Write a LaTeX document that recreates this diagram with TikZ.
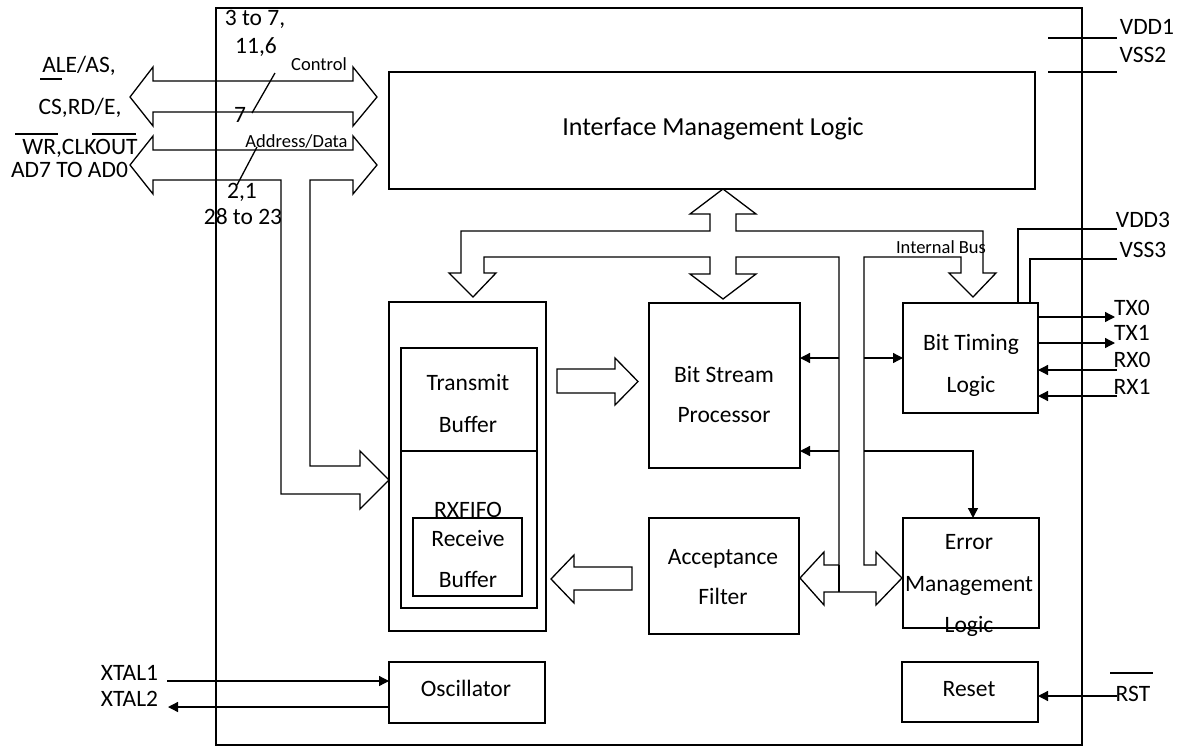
\documentclass[tikz,border=0pt]{standalone}
\usepackage{fontspec}
\setmainfont{Carlito}
\usetikzlibrary{arrows.meta,calc}
\tikzset{
  blk/.style={draw, line width=1.3pt, inner sep=0pt, outer sep=0pt},
  wire/.style={line width=1.3pt},
  sig/.style={line width=1.3pt, -{Triangle[length=10pt,width=10pt]}},
  hol/.style={draw, line width=1.3pt, line join=miter},
  txt/.style={font=\fontsize{23.5}{28}\selectfont, inner sep=0pt, outer sep=0pt, text height=15.1pt, text depth=0pt},
  bigtxt/.style={font=\fontsize{26}{31}\selectfont, inner sep=0pt, outer sep=0pt, text height=16.7pt, text depth=0pt},
  smalltxt/.style={font=\fontsize{18.5}{22}\selectfont, inner sep=0pt, outer sep=0pt, text height=11.9pt, text depth=0pt},
}
\begin{document}
\begin{tikzpicture}[x=1pt,y=-1pt]
\useasboundingbox (0,0) rectangle (1181,747);
\fill[white] (0,0) rectangle (1181,747);

% chip outline
\node[blk, minimum width=866pt, minimum height=737pt] (chip) at (649,376.5) {};

% blocks
\node[blk, minimum width=646pt, minimum height=117pt] (iml) at (712,130.5) {};
\node[blk, minimum width=157pt, minimum height=329pt] (buf) at (467.5,466.5) {};
\node[blk, minimum width=136pt, minimum height=260pt] (fifo) at (469,478) {};
\draw[wire] (fifo.west |- 0,451) coordinate (divl) -- (fifo.east |- divl) coordinate (divr);
\node[blk, minimum width=109pt, minimum height=78pt] (rxb) at (467.5,557) {};
\node[blk, minimum width=151pt, minimum height=165pt] (bsp) at (724.5,385.5) {};
\node[blk, minimum width=150pt, minimum height=116pt] (acc) at (724,576) {};
\node[blk, minimum width=135pt, minimum height=110pt] (btl) at (970.5,358) {};
\node[blk, minimum width=136pt, minimum height=110pt] (eml) at (971,573) {};
\node[blk, minimum width=156pt, minimum height=61pt] (osc) at (467,692.5) {};
\node[blk, minimum width=136pt, minimum height=60pt] (rst) at (970,692) {};

% block texts
\node[bigtxt] (imlT) at (713,127) {Interface Management Logic};
\node[txt] (tbT1) at (468,383) {Transmit};
\node[txt] (tbT2) at (468,425) {Buffer};
\node[txt] (fifoT) at (468,510) {RXFIFO};
\node[txt] (rbT1) at (468,539) {Receive};
\node[txt] (rbT2) at (468,580) {Buffer};
\node[txt] (bspT1) at (724,375) {Bit Stream};
\node[txt] (bspT2) at (724,415) {Processor};
\node[txt] (accT1) at (723,557) {Acceptance};
\node[txt] (accT2) at (723,597) {Filter};
\node[txt] (btlT1) at (971,343) {Bit Timing};
\node[txt] (btlT2) at (971,385) {Logic};
\node[txt] (emlT1) at (969,542) {Error};
\node[txt] (emlT2) at (969,584) {Management};
\node[txt] (emlT3) at (969,625) {Logic};
\node[txt] (oscT) at (466,689) {Oscillator};
\node[txt] (rstT) at (969,689) {Reset};

% control double arrow
\draw[hol] (130,97) -- (153,67) -- (153,81) -- (353,81) -- (353,67) -- (377,97)
  -- (353,126) -- (353,112) -- (153,112) -- (153,126) -- cycle;
% address/data double arrow with branch to buffer
\draw[hol] (130,165) -- (153,136) -- (153,150) -- (353,150) -- (353,136) -- (377,165)
  -- (353,194) -- (353,180) -- (310,180) -- (310,466) -- (360,466) -- (360,451)
  -- (389,480) -- (360,509) -- (360,494) -- (281,494) -- (281,180) -- (153,180)
  -- (153,194) -- cycle;

% internal bus
\draw[hol] (461,231) -- (710,231) -- (710,214) -- (690,214) -- (723,189) -- (756,214)
  -- (736,214) -- (736,231) -- (983,231) -- (983,273) -- (996,273) -- (973,297)
  -- (949,273) -- (961,273) -- (961,257) -- (864,257) -- (864,565) -- (876,565)
  -- (876,552) -- (902,578) -- (876,605) -- (876,592) -- (824,592) -- (824,605)
  -- (800,578) -- (824,552) -- (824,565) -- (839,565) -- (839,257) -- (736,257)
  -- (736,274) -- (756,274) -- (723,299) -- (690,274) -- (710,274) -- (710,257)
  -- (484,257) -- (484,273) -- (496,273) -- (473,297) -- (449,273) -- (461,273) -- cycle;
\draw[wire] (839,565) -- (839,592);
\node[smalltxt] (busT) at (941,248) {Internal Bus};

% transmit -> bsp, acceptance -> receive
\draw[hol] (557,369) -- (615,369) -- (615,358) -- (638,381.5) -- (615,405) -- (615,393) -- (557,393) -- cycle;
\draw[hol] (632,567) -- (574,567) -- (574,555) -- (551,579) -- (574,603) -- (574,590) -- (632,590) -- cycle;

% bus taps
\coordinate (busL1) at (839,358);
\coordinate (busR1) at (864,358);
\coordinate (busL2) at (839,451);
\coordinate (busR2) at (864,451);
\draw[sig] (busL1) -- (bsp.east |- busL1);
\draw[sig] (busR1) -- (btl.west |- busR1);
\draw[sig] (busL2) -- (bsp.east |- busL2);
\draw[sig] (busR2) -| ([xshift=2pt]eml.north);

% left labels
\node[txt] (l37) at (255,18) {3 to 7,};
\node[txt] (l116) at (256,46) {11,6};
\node[txt] (lale) at (79,65) {ALE/AS,};
\draw[wire] (40,79) -- (62,79);
\node[txt] (lcs) at (80,107) {CS,RD/E,};
\node[txt] (lwr) at (80,147) {WR,CLKOUT};
\draw[wire] (15,134) -- (58,134);
\draw[wire] (92,134) -- (136,134);
\node[txt] (lad) at (69.5,170) {AD7 TO AD0};
\node[smalltxt] (lctl) at (319,65) {Control};
\node[txt] (l7) at (240,115) {7};
\draw[wire] (275,73) -- (252,113);
\node[smalltxt] (ladr) at (296.5,142) {Address/Data};
\draw[wire] (257,147) -- (237,185);
\node[txt] (l21) at (242,191) {2,1};
\node[txt] (l2823) at (243,217) {28 to 23};

% power pins
\coordinate (vdd1a) at (1048,38); \coordinate (vdd1b) at (1117,38);
\coordinate (vss2a) at (1048,72); \coordinate (vss2b) at (1117,72);
\draw[wire] (vdd1a) -- (vdd1b);
\draw[wire] (vss2a) -- (vss2b);
\node[txt] (tvdd1) at (1147,27) {VDD1};
\node[txt] (tvss2) at (1143,55) {VSS2};
\coordinate (vdd3e) at (1117,229);
\coordinate (vss3e) at (1117,259);
\draw[wire] ([xshift=115pt]btl.north west) |- (vdd3e);
\draw[wire] ([xshift=127pt]btl.north west) |- (vss3e);
\node[txt] (tvdd3) at (1143,220) {VDD3};
\node[txt] (tvss3) at (1143,250) {VSS3};

% CAN pins
\coordinate (tx0e) at (1115,317);
\coordinate (tx1e) at (1115,343);
\coordinate (rx0s) at (1117,370);
\coordinate (rx1s) at (1117,396);
\draw[sig] (btl.east |- tx0e) -- (tx0e);
\draw[sig] (btl.east |- tx1e) -- (tx1e);
\draw[sig] (rx0s) -- (btl.east |- rx0s);
\draw[sig] (rx1s) -- (btl.east |- rx1s);
\node[txt] (ttx0) at (1132,308) {TX0};
\node[txt] (ttx1) at (1132,333) {TX1};
\node[txt] (trx0) at (1132,360) {RX0};
\node[txt] (trx1) at (1132,387) {RX1};

% oscillator pins
\coordinate (xt1s) at (167,681);
\coordinate (xt2e) at (168,707);
\draw[sig] (xt1s) -- (osc.west |- xt1s);
\draw[sig] (osc.west |- xt2e) -- (xt2e);
\node[txt] (txt1) at (129.5,673) {XTAL1};
\node[txt] (txt2) at (129.5,699) {XTAL2};

% reset pin
\coordinate (rsts) at (1117,696);
\draw[sig] (rsts) -- (rst.east |- rsts);
\node[txt] (trst) at (1133,694) {RST};
\draw[wire] (1110,673) -- (1153,673);
\end{tikzpicture}
\end{document}
